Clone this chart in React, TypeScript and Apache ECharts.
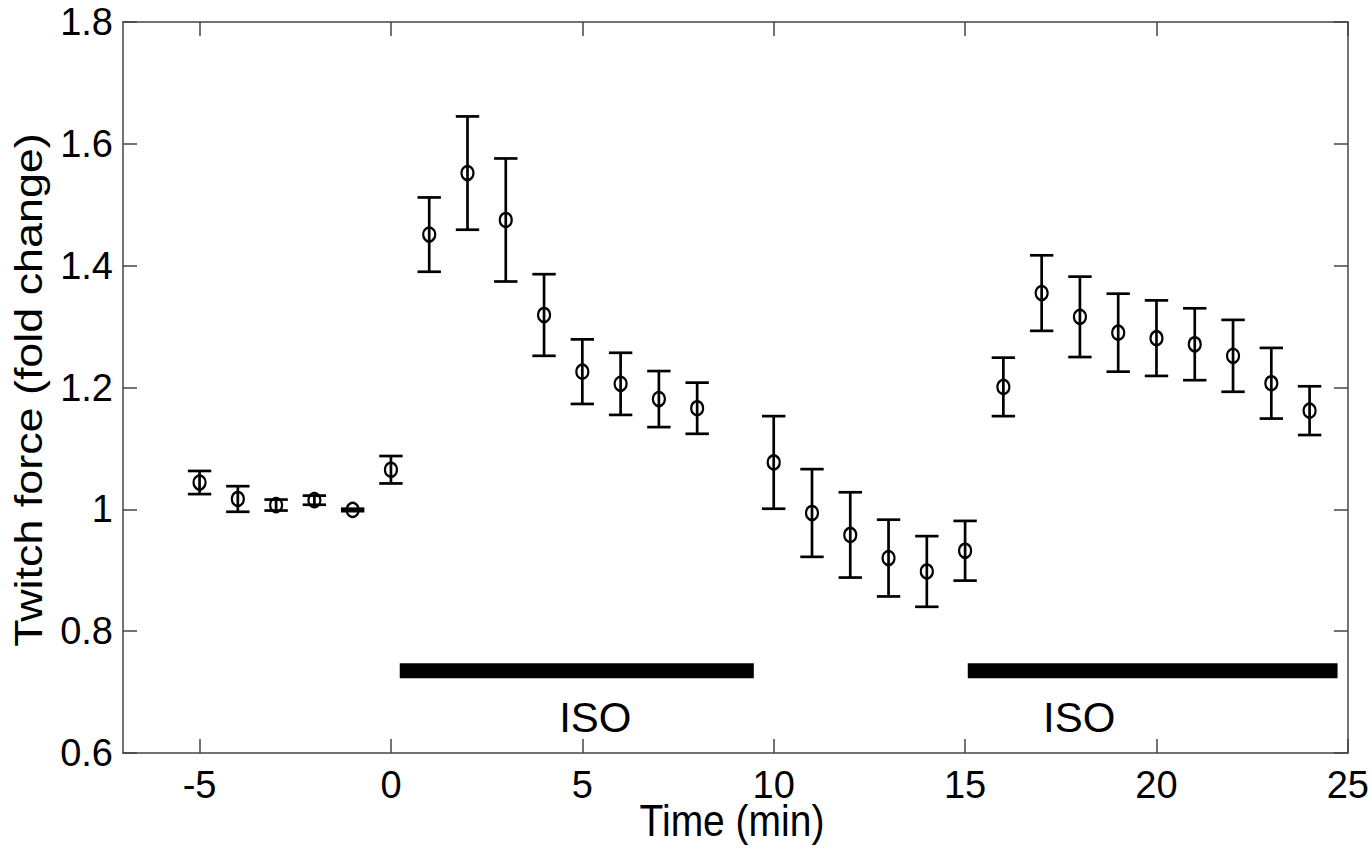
import React, { useEffect, useRef } from "react";
import * as echarts from "echarts";

const times = [-5, -4, -3, -2, -1, 0, 1, 2, 3, 4, 5, 6, 7, 8, 10, 11, 12, 13, 14, 15, 16, 17, 18, 19, 20, 21, 22, 23, 24];
const means = [1.044, 1.017, 1.007, 1.015, 0.999, 1.065, 1.451, 1.552, 1.475, 1.319, 1.226, 1.206, 1.181, 1.166, 1.077, 0.994, 0.958, 0.92, 0.898, 0.932, 1.201, 1.355, 1.316, 1.29, 1.281, 1.271, 1.252, 1.207, 1.162];
const errors = [0.019, 0.021, 0.009, 0.0075, 0.002, 0.0225, 0.061, 0.093, 0.101, 0.067, 0.053, 0.051, 0.046, 0.042, 0.076, 0.072, 0.07, 0.063, 0.058, 0.049, 0.048, 0.062, 0.066, 0.064, 0.062, 0.059, 0.059, 0.058, 0.04];

const xTicks = [-5, 0, 5, 10, 15, 20, 25];
const yTicks = [0.6, 0.8, 1, 1.2, 1.4, 1.6, 1.8];

const xTitle = "Time (min)";
const yTitle = "Twitch force (fold change)";

const isoStart = [0.23, 15.07];
const isoEnd = [9.48, 24.73];
const isoLevel = [0.735, 0.735];
const isoLabels = ["ISO", "ISO"];
const isoLabelX = [5.34, 17.98];
const isoLabelY = [0.659, 0.659];

const FONT = "'Liberation Sans', Arial, Helvetica, sans-serif";
const AXIS_COLOR = "#444";

export default function App() {
  const ref = useRef<HTMLDivElement>(null);
  useEffect(() => {
    if (!ref.current) return;
    const chart = echarts.init(ref.current, null, { renderer: "svg" });

    const errData = times.map((t, i) => [t, means[i] - errors[i], means[i] + errors[i]]);
    const ptData = times.map((t, i) => [t, means[i]]);
    const isoData = isoStart.map((s, i) => [s, isoEnd[i], isoLevel[i]]);
    const labelData = isoLabelX.map((x, i) => [x, isoLabelY[i]]);

    const axisLine = { show: true, onZero: false, lineStyle: { color: AXIS_COLOR, width: 1.5 } };
    const tickBase = { show: true, inside: true, length: 14, lineStyle: { color: AXIS_COLOR, width: 1.5 } };

    chart.setOption({
      animation: false,
      backgroundColor: "#fff",
      grid: { left: 123, right: 23, top: 22, bottom: 113, containLabel: false },
      graphic: [
        {
          type: "text",
          x: 732,
          y: 821,
          scaleY: 1.15,
          style: { text: xTitle, fontSize: 39, fontFamily: FONT, fill: "#000", align: "center", verticalAlign: "middle" },
        },
        {
          type: "text",
          x: 29,
          y: 390,
          rotation: Math.PI / 2,
          scaleX: 1.15,
          style: { text: yTitle, fontSize: 39, fontFamily: FONT, fill: "#000", align: "center", verticalAlign: "middle" },
        },
      ],
      xAxis: [
        {
          type: "value",
          position: "bottom",
          min: -7,
          max: 25,
          axisLine,
          axisTick: { ...tickBase, customValues: xTicks },
          axisLabel: { customValues: xTicks, fontSize: 38, color: "#000", margin: 13, fontFamily: FONT },
          splitLine: { show: false },
        },
        {
          type: "value",
          position: "top",
          min: -7,
          max: 25,
          axisLine,
          axisTick: { ...tickBase, customValues: xTicks },
          axisLabel: { show: false },
          splitLine: { show: false },
        },
      ],
      yAxis: [
        {
          type: "value",
          position: "left",
          min: 0.6,
          max: 1.8,
          axisLine,
          axisTick: { ...tickBase, customValues: yTicks },
          axisLabel: { customValues: yTicks, fontSize: 38, color: "#000", margin: 10, fontFamily: FONT },
          splitLine: { show: false },
        },
        {
          type: "value",
          position: "right",
          min: 0.6,
          max: 1.8,
          axisLine,
          axisTick: { ...tickBase, customValues: yTicks },
          axisLabel: { show: false },
          splitLine: { show: false },
        },
      ],
      series: [
        {
          type: "custom",
          name: "iso",
          data: isoData,
          clip: false,
          renderItem: (params: any, api: any) => {
            const a = api.coord([api.value(0), api.value(2)]);
            const b = api.coord([api.value(1), api.value(2)]);
            return {
              type: "rect",
              shape: { x: a[0], y: a[1] - 7.5, width: b[0] - a[0], height: 15 },
              style: { fill: "#000" },
            };
          },
        },
        {
          type: "custom",
          name: "isoLabel",
          data: labelData,
          clip: false,
          renderItem: (params: any, api: any) => {
            const p = api.coord([api.value(0), api.value(1)]);
            return {
              type: "text",
              x: p[0],
              y: p[1],
              style: {
                text: isoLabels[params.dataIndex],
                fontSize: 42,
                fontFamily: FONT,
                fill: "#000",
                align: "center",
                verticalAlign: "middle",
              },
            };
          },
        },
        {
          type: "custom",
          name: "errors",
          data: errData,
          renderItem: (params: any, api: any) => {
            const x = api.value(0);
            const lo = api.coord([x, api.value(1)]);
            const hi = api.coord([x, api.value(2)]);
            const hw = 11.7;
            const style = { stroke: "#000", lineWidth: 2.7 };
            return {
              type: "group",
              children: [
                { type: "line", shape: { x1: lo[0], y1: lo[1], x2: hi[0], y2: hi[1] }, style },
                { type: "line", shape: { x1: lo[0] - hw, y1: lo[1], x2: lo[0] + hw, y2: lo[1] }, style },
                { type: "line", shape: { x1: hi[0] - hw, y1: hi[1], x2: hi[0] + hw, y2: hi[1] }, style },
              ],
            };
          },
        },
        {
          type: "scatter",
          name: "mean",
          data: ptData,
          symbol: "circle",
          symbolSize: [12, 14],
          itemStyle: { color: "transparent", borderColor: "#000", borderWidth: 2.3, opacity: 1 },
          z: 5,
        },
      ],
    });
    return () => chart.dispose();
  }, []);
  return (
    <div
      ref={ref}
      style={{ position: "absolute", left: 0, top: 0, width: 1372, height: 866, background: "#fff" }}
    />
  );
}
